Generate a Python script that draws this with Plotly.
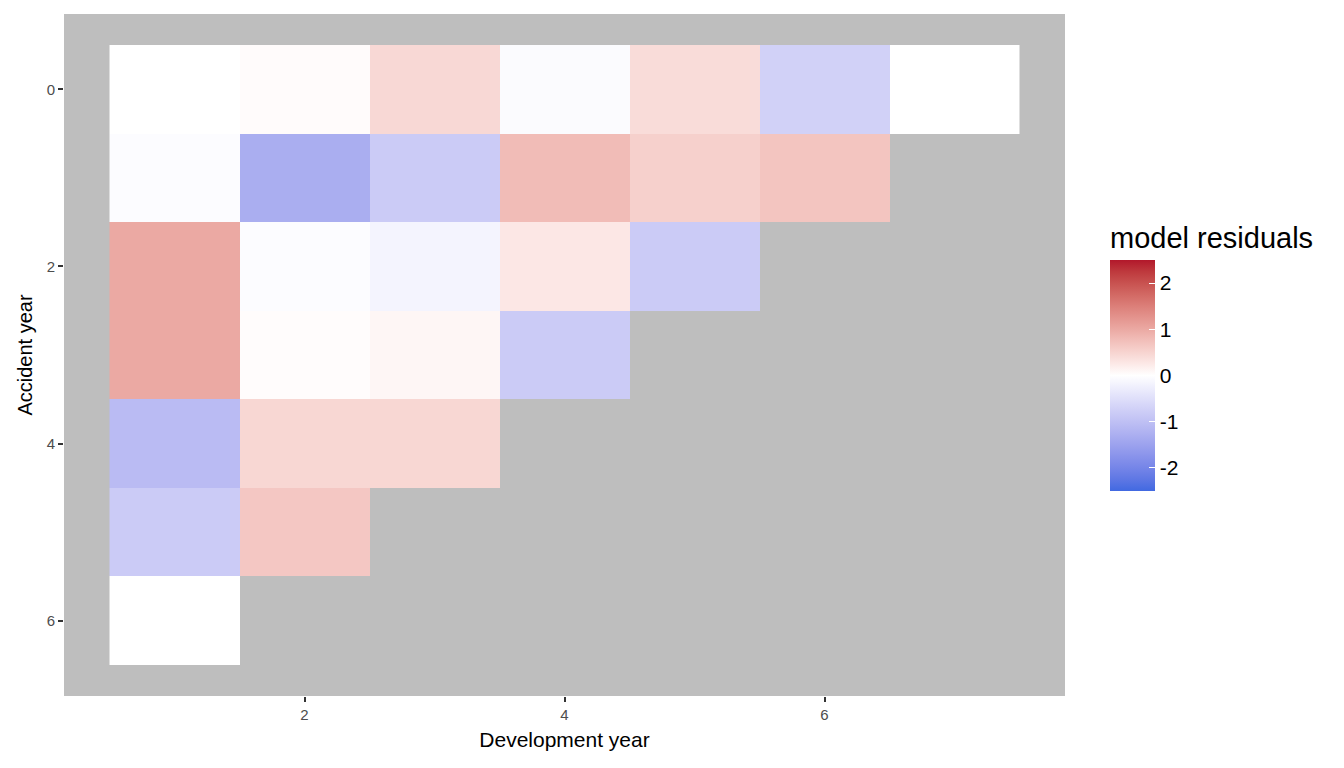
import numpy as np
import plotly.graph_objects as go

# development years (columns) and accident years (rows)
dev_years = [1, 2, 3, 4, 5, 6, 7]
acc_years = [0, 1, 2, 3, 4, 5, 6]

res_ay0 = [0.0, 0.04, 0.45, -0.07, 0.40, -0.72, 0.0]
res_ay1 = [-0.05, -1.30, -0.81, 0.78, 0.55, 0.68, None]
res_ay2 = [1.0, -0.05, -0.17, 0.27, -0.81, None, None]
res_ay3 = [1.0, 0.03, 0.10, -0.81, None, None, None]
res_ay4 = [-1.08, 0.47, 0.47, None, None, None, None]
res_ay5 = [-0.81, 0.65, None, None, None, None, None]
res_ay6 = [0.0, None, None, None, None, None, None]

z = [res_ay0, res_ay1, res_ay2, res_ay3, res_ay4, res_ay5, res_ay6]

# colour bar ticks
cbar_ticks = [-2, -1, 0, 1, 2]
cbar_labels = ["-2", "-1", "0", "1", "2"]

LOW, MID, HIGH = "#4169E1", "#FFFFFF", "#B2182B"
LIMIT = 2.5


def hex2rgb(h):
    h = h.lstrip("#")
    return [int(h[i:i + 2], 16) / 255.0 for i in (0, 2, 4)]


def rgb2lab(rgb):
    c = np.array(rgb)
    c = np.where(c > 0.04045, ((c + 0.055) / 1.055) ** 2.4, c / 12.92)
    m = np.array([[0.4124, 0.3576, 0.1805], [0.2126, 0.7152, 0.0722], [0.0193, 0.1192, 0.9505]])
    xyz = m.dot(c) / np.array([0.95047, 1.0, 1.08883])
    f = np.where(xyz > 0.008856, np.cbrt(xyz), 7.787 * xyz + 16 / 116.0)
    return np.array([116 * f[1] - 16, 500 * (f[0] - f[1]), 200 * (f[1] - f[2])])


def lab2hex(lab):
    fy = (lab[0] + 16) / 116.0
    fx = fy + lab[1] / 500.0
    fz = fy - lab[2] / 200.0
    f = np.array([fx, fy, fz])
    xyz = np.where(f ** 3 > 0.008856, f ** 3, (f - 16 / 116.0) / 7.787) * np.array([0.95047, 1.0, 1.08883])
    m = np.array([[3.2406, -1.5372, -0.4986], [-0.9689, 1.8758, 0.0415], [0.0557, -0.2040, 1.0570]])
    c = m.dot(xyz)
    c = np.where(c > 0.0031308, 1.055 * np.clip(c, 0, None) ** (1 / 2.4) - 0.055, 12.92 * c)
    c = np.clip(c, 0, 1)
    return "#%02x%02x%02x" % tuple(int(round(v * 255)) for v in c)


# diverging scale interpolated in Lab space like scale_fill_gradient2
lab_lo, lab_mid, lab_hi = rgb2lab(hex2rgb(LOW)), rgb2lab(hex2rgb(MID)), rgb2lab(hex2rgb(HIGH))
colorscale = []
for i in range(21):
    t = i / 20.0
    if t <= 0.5:
        lab = lab_lo + (lab_mid - lab_lo) * (t / 0.5)
    else:
        lab = lab_mid + (lab_hi - lab_mid) * ((t - 0.5) / 0.5)
    colorscale.append([t, lab2hex(lab)])

fig = go.Figure(
    go.Heatmap(
        x=dev_years,
        y=acc_years,
        z=z,
        colorscale=colorscale,
        zmin=-LIMIT,
        zmax=LIMIT,
        hoverongaps=False,
        colorbar=dict(
            title=dict(text="model residuals", side="top", font=dict(size=29, color="#000000")),
            x=1.0,
            xanchor="left",
            xpad=45,
            y=0.3006,
            yanchor="bottom",
            ypad=0,
            len=268,
            lenmode="pixels",
            thickness=45,
            thicknessmode="pixels",
            outlinewidth=0,
            tickvals=cbar_ticks,
            ticktext=cbar_labels,
            ticks="inside",
            ticklen=6,
            tickcolor="#FFFFFF",
            tickfont=dict(size=21, color="#000000"),
        ),
    )
)

fig.update_layout(
    width=1344,
    height=768,
    paper_bgcolor="#FFFFFF",
    plot_bgcolor="#BEBEBE",
    font=dict(family="Liberation Sans, Arial, sans-serif"),
    margin=dict(l=56, r=287, t=6, b=80, autoexpand=False),
    xaxis=dict(
        title=dict(text="Development year", font=dict(size=21, color="#000000"), standoff=10),
        range=[0.15, 7.85],
        tickvals=[2, 4, 6],
        ticks="outside",
        ticklen=5,
        tickwidth=2,
        tickcolor="#333333",
        tickfont=dict(size=15, color="#4D4D4D"),
        showgrid=False,
        zeroline=False,
        showline=False,
    ),
    yaxis=dict(
        title=dict(text="Accident year", font=dict(size=20, color="#000000"), standoff=8),
        range=[6.85, -0.85],
        tickvals=[0, 2, 4, 6],
        ticks="outside",
        ticklen=5,
        tickwidth=2,
        tickcolor="#333333",
        tickfont=dict(size=15, color="#4D4D4D"),
        showgrid=False,
        zeroline=False,
        showline=False,
    ),
)

fig.write_html("out.html")
